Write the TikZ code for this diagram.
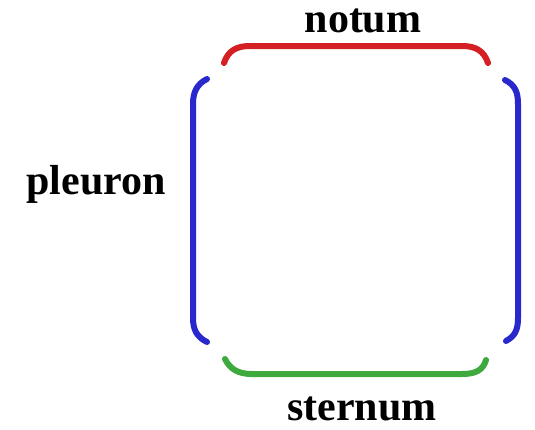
\documentclass[tikz,border=0pt]{standalone}
\usepackage{fontspec}
\setmainfont{Liberation Serif}
\definecolor{segred}{RGB}{212,32,36}
\definecolor{segblue}{RGB}{40,40,205}
\definecolor{seggreen}{RGB}{62,170,62}
\tikzset{
  seg/.style={line width=6pt, line cap=round},
  lbl/.style={anchor=base, inner sep=0pt, font=\fontsize{42}{42}\selectfont\bfseries}
}
\begin{document}
\begin{tikzpicture}[x=1pt,y=-1pt]
\useasboundingbox[fill=white] (0,0) rectangle (535,429);
% notum (red, top)
\draw[seg, segred] (224,63) .. controls (228,51) and (236,46) .. (250,46) -- (462,46) .. controls (476,46) and (484,51) .. (488,63);
% pleuron (blue, left and right)
\draw[seg, segblue] (207,79) .. controls (197,84) and (193,92) .. (193,104) -- (193,318) .. controls (193,330) and (197,337) .. (207,342);
\draw[seg, segblue] (505,80) .. controls (515,85) and (518,92) .. (518,104) -- (518,318) .. controls (518,330) and (515,336) .. (506,341);
% sternum (green, bottom)
\draw[seg, seggreen] (225,359) .. controls (230,369) and (238,374) .. (252,374) -- (462,374) .. controls (476,374) and (483,370) .. (486,360);
% labels
\node[lbl] (notum) at (363,32) {notum};
\node[lbl] (pleuron) at (96,194) {pleuron};
\node[lbl] (sternum) at (362,420) {sternum};
\end{tikzpicture}
\end{document}
